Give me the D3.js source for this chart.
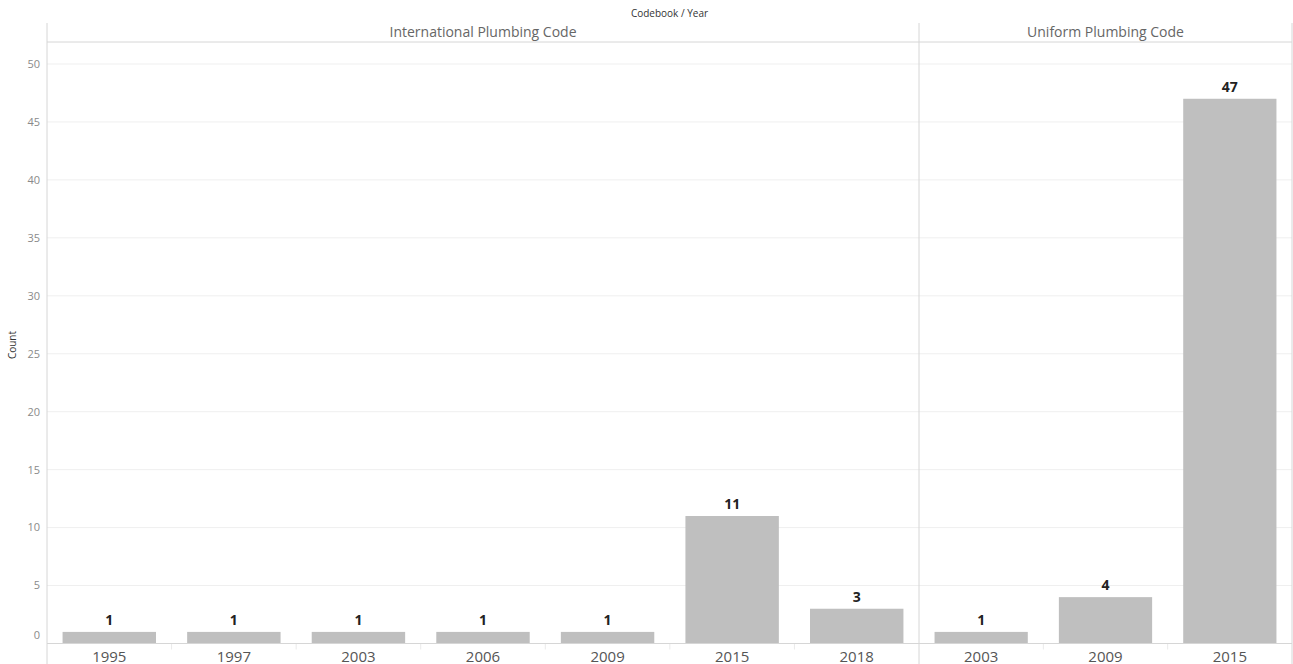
<!DOCTYPE html>
<html><head><meta charset="utf-8">
<script src="https://cdn.jsdelivr.net/npm/d3@7"></script>
<style>
html,body{margin:0;padding:0;background:#fff;}
svg text{font-family:"Open Sans",Lato,sans-serif;}
</style></head>
<body><svg id="c" width="1293" height="664"></svg>
<script>
const panels = ["International Plumbing Code", "Uniform Plumbing Code"];
const ipcYears = ["1995","1997","2003","2006","2009","2015","2018"];
const ipcCounts = [1,1,1,1,1,11,3];
const upcYears = ["2003","2009","2015"];
const upcCounts = [1,4,47];
const yTicks = [0,5,10,15,20,25,30,35,40,45,50];

const svg = d3.select("#c");
const leftX = 47, rightX = 1292, topY = 23, headerBottom = 42, H = 664;
const panelSplit = 919;
const y = d3.scaleLinear().domain([0,50]).range([643.5,64]);

svg.append("g").selectAll("line").data(yTicks.filter(d=>d>0)).join("line")
  .attr("x1",leftX).attr("x2",rightX).attr("y1",d=>y(d)).attr("y2",d=>y(d))
  .attr("stroke","#efefef").attr("stroke-width",1);

svg.append("g").selectAll("text").data(yTicks).join("text")
  .attr("x",40).attr("y",d=>d===0?y(d)-8:y(d))
  .attr("dy","0.35em").attr("text-anchor","end")
  .attr("font-size",11).attr("fill","#8a8a8a").text(d=>d);

svg.append("text").attr("transform","translate(16,345) rotate(-90)")
  .attr("text-anchor","middle").attr("font-size",10).attr("fill","#333").text("Count");

svg.append("text").attr("x",(leftX+rightX)/2).attr("y",17).attr("text-anchor","middle")
  .attr("font-size",10).attr("fill","#333").text("Codebook / Year");

const data = [
  {name:panels[0], years:ipcYears, counts:ipcCounts, x0:leftX, x1:panelSplit},
  {name:panels[1], years:upcYears, counts:upcCounts, x0:panelSplit, x1:rightX}
];

data.forEach(p=>{
  const x = d3.scaleBand().domain(p.years).range([p.x0,p.x1]).paddingInner(0.25).paddingOuter(0.125);
  const g = svg.append("g");
  g.append("text").attr("x",(p.x0+p.x1)/2).attr("y",37).attr("text-anchor","middle")
    .attr("font-size",14).attr("fill","#666").text(p.name);
  const rows = p.years.map((yr,i)=>({yr, v:p.counts[i]}));
  g.selectAll("rect").data(rows).join("rect")
    .attr("x",d=>x(d.yr)).attr("width",x.bandwidth())
    .attr("y",d=>y(d.v)).attr("height",d=>y(0)-y(d.v)).attr("fill","#bfbfbf");
  g.selectAll("text.v").data(rows).join("text").attr("class","v")
    .attr("x",d=>x(d.yr)+x.bandwidth()/2).attr("y",d=>y(d.v)-7)
    .attr("text-anchor","middle").attr("font-size",14).attr("font-weight","bold")
    .attr("fill","#222").text(d=>d.v);
  g.selectAll("text.yr").data(rows).join("text").attr("class","yr")
    .attr("x",d=>x(d.yr)+x.bandwidth()/2).attr("y",662)
    .attr("text-anchor","middle").attr("font-size",15).attr("fill","#555").text(d=>d.yr);
  const step = x.step();
  g.selectAll("line.sep").data(p.years.slice(1)).join("line").attr("class","sep")
    .attr("x1",d=>x(d)-step*0.125).attr("x2",d=>x(d)-step*0.125)
    .attr("y1",y(0)).attr("y2",y(0)+6).attr("stroke","#eaeaea");
});

const lc = "#d6d6d6";
svg.append("line").attr("x1",leftX).attr("x2",rightX).attr("y1",headerBottom).attr("y2",headerBottom).attr("stroke",lc);
svg.append("line").attr("x1",leftX).attr("x2",rightX).attr("y1",y(0)).attr("y2",y(0)).attr("stroke",lc);
[leftX,panelSplit,rightX].forEach(xv=>{
  svg.append("line").attr("x1",xv).attr("x2",xv).attr("y1",topY).attr("y2",H).attr("stroke",lc);
});
</script></body></html>
